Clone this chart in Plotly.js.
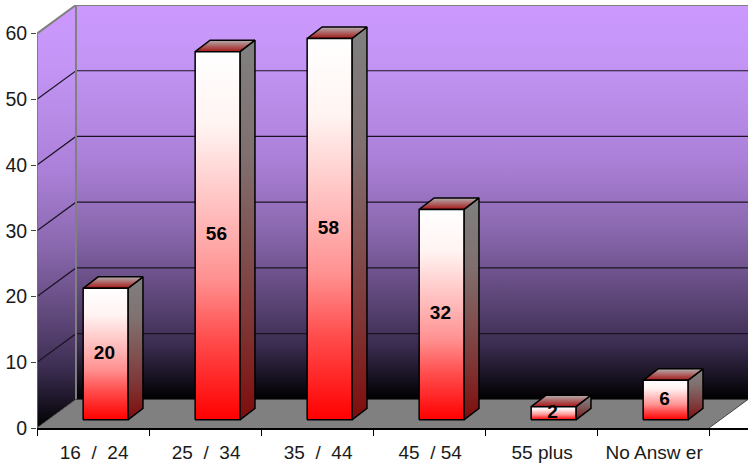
<!DOCTYPE html>
<html><head><meta charset="utf-8">
<script src="https://cdn.plot.ly/plotly-3.0.1.min.js"></script>
<style>html,body{margin:0;padding:0;background:#fff}#c{width:748px;height:464px}</style>
</head><body><div id="c"></div>
<script>
const categories = ['16\u00a0\u00a0/\u00a0\u00a024','25\u00a0\u00a0/\u00a0\u00a034','35\u00a0\u00a0/\u00a0\u00a044','45\u00a0\u00a0/\u00a054','55 plus','No Answ er'];
const values = [20,56,58,32,2,6];
const yTicks = [0,10,20,30,40,50,60];

// 3D look, in axis units
const wallDx = 0.348, wallDy = 4.35;
const barCenter = 0.612, barHalf = 0.2, barBase = 1.25, barDx = 0.134, barDy = 1.75;
const labelCenter = 0.51;
const yMax = 60 + wallDy;
const xMax = categories.length + wallDx;

const wallScale = [[0,'#000000'],[0.137,'#3a2c50'],[0.226,'#55406e'],[0.43,'#8a68ae'],[0.607,'#ab80d8'],[0.86,'#c495f5'],[1,'#CC99FF']];
const frontScale = [[0,'#FF0000'],[0.22,'#ff4d4d'],[0.38,'#ff9090'],[0.51,'#ffb0b0'],[0.8,'#fff4f2'],[1,'#FFFFFF']];
const sideScale = [[0,'#7f0c0c'],[0.25,'#7f3535'],[0.45,'#805050'],[0.7,'#807070'],[1,'#808080']];
const topScale = [[0,'#a51515'],[1,'#b5b0b0']];

const traces = [];
function poly(pts, scale, lineColor, lineW, solid){
  const t = {type:'scatter', mode:'lines', x:pts.map(p=>p[0]).concat(pts[0][0]), y:pts.map(p=>p[1]).concat(pts[0][1]),
    fill:'toself', line:{color:lineColor, width:lineW}, hoverinfo:'skip', showlegend:false, cliponaxis:false};
  if(solid) t.fillcolor = solid; else t.fillgradient = {type:'vertical', colorscale:scale};
  traces.push(t);
}
function seg(pts, color, w){
  traces.push({type:'scatter', mode:'lines', x:pts.map(p=>p[0]), y:pts.map(p=>p[1]), line:{color:color,width:w},
    hoverinfo:'skip', showlegend:false, cliponaxis:false});
}
const n = categories.length;
// walls and floor
poly([[wallDx,wallDy],[n+wallDx,wallDy],[n+wallDx,yMax],[wallDx,yMax]], wallScale, 'rgba(0,0,0,0)', 0);
poly([[0,0],[wallDx,wallDy],[wallDx,yMax],[0,60]], wallScale, 'rgba(0,0,0,0)', 0);
poly([[0,0],[n,0],[n+wallDx,wallDy],[wallDx,wallDy]], null, 'rgba(0,0,0,0)', 0, '#808080');
// gridlines
yTicks.slice(1,-1).forEach(v=>{
  seg([[0,v],[wallDx,v+wallDy],[n+wallDx,v+wallDy]], '#1c1424', 1.2);
});
// wall edges
seg([[0,60],[wallDx,yMax],[n+wallDx,yMax]], '#808080', 2);
seg([[wallDx,wallDy],[wallDx,yMax]], '#808080', 2);
seg([[0,0],[0,60]], '#707070', 1.5);
seg([[0,0],[wallDx,wallDy]], '#555555', 1);
seg([[n,0],[n+wallDx,wallDy]], '#444444', 1);
seg([[wallDx,wallDy],[n+wallDx,wallDy]], '#333333', 1);
// bars
values.forEach((v,i)=>{
  const x0 = i+barCenter-barHalf, x1 = i+barCenter+barHalf, y0 = barBase, y1 = barBase+v;
  poly([[x1,y0],[x1+barDx,y0+barDy],[x1+barDx,y1+barDy],[x1,y1]], sideScale, '#000', 1.5);
  poly([[x0,y1],[x1,y1],[x1+barDx,y1+barDy],[x0+barDx,y1+barDy]], topScale, '#000', 1.5);
  poly([[x0,y0],[x1,y0],[x1,y1],[x0,y1]], frontScale, '#000', 1.5);
});
// data labels
traces.push({type:'scatter', mode:'text', x:values.map((v,i)=>i+barCenter-0.01), y:values.map(v=>barBase+v/2),
  text:values.map(String), textposition:'middle center', cliponaxis:false,
  textfont:{family:'"Liberation Sans",Arial,sans-serif', size:19, color:'#000'}, hoverinfo:'skip', showlegend:false,
  texttemplate:'<b>%{text}</b>'});

const layout = {
  width:748, height:464, margin:{l:37,r:0,t:5,b:36}, paper_bgcolor:'#fff', plot_bgcolor:'rgba(0,0,0,0)', showlegend:false,
  xaxis:{range:[0,xMax], tickmode:'array', tickvals:categories.map((c,i)=>i+labelCenter), ticktext:categories, ticks:'', showgrid:false, zeroline:false,
    showline:true, linecolor:'#000', linewidth:1.5, tickangle:0, ticklabelstandoff:7,
    tickfont:{family:'"Liberation Sans",Arial,sans-serif', size:19, color:'#1a1a1a'},
    minor:{tickmode:'array', tickvals:categories.map((c,i)=>i).concat(n), ticks:'outside', ticklen:6, tickwidth:1, tickcolor:'#000', showgrid:false}},
  yaxis:{range:[0,yMax], tickmode:'array', tickvals:yTicks, ticks:'outside', ticklen:5, tickwidth:1, tickcolor:'#444', showgrid:false, zeroline:false,
    showline:false, tickfont:{family:'"Liberation Sans",Arial,sans-serif', size:19.5, color:'#1a1a1a'}}
};
Plotly.newPlot('c', traces, layout, {displayModeBar:false, staticPlot:true});
</script></body></html>
